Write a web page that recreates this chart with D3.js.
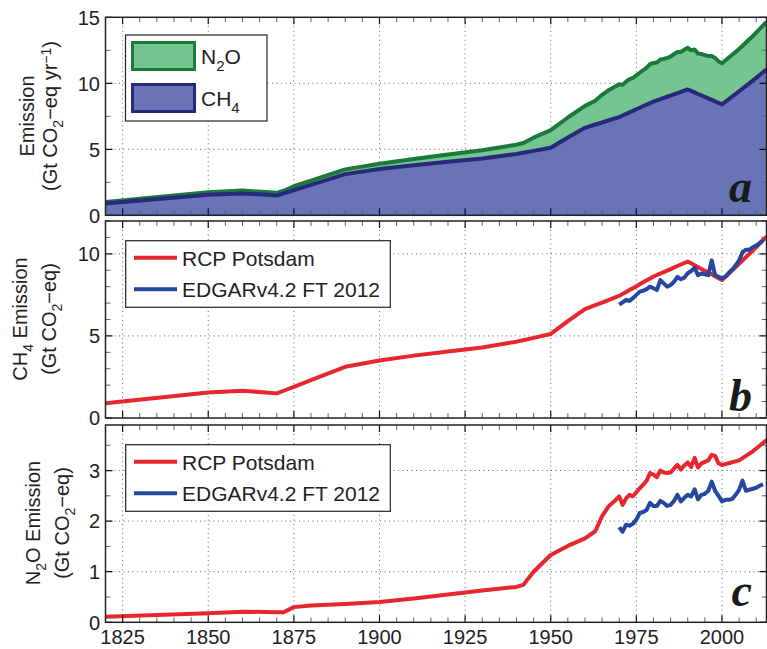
<!DOCTYPE html>
<html>
<head>
<meta charset="utf-8">
<script src="https://cdn.jsdelivr.net/npm/d3@7"></script>
<style>
  body { margin: 0; background: #fff; }
  text { font-family: "Liberation Sans", Arial, sans-serif; fill: #222; }
</style>
</head>
<body>
<svg id="chart" width="767" height="649"></svg>
<script>
// RCP Potsdam historical emissions (Gt CO2-eq)
const rcpYears = [1820, 1850, 1860, 1870, 1872, 1875, 1880, 1890, 1900, 1910,
  1920, 1930, 1940, 1942, 1945, 1950, 1955, 1960, 1963, 1965, 1967, 1969,
  1970, 1971, 1972, 1973, 1974, 1975, 1976, 1977, 1978, 1979,
  1980, 1981, 1982, 1983, 1984, 1985, 1986, 1987, 1988, 1989,
  1990, 1991, 1992, 1993, 1994, 1995, 1996, 1997, 1998, 1999,
  2000, 2005, 2009, 2013];
const rcpCH4 = [0.9, 1.56, 1.66, 1.5, 1.66, 1.9, 2.3, 3.12, 3.5, 3.8,
  4.05, 4.3, 4.65, 4.74, 4.88, 5.12, 5.9, 6.63, 6.88, 7.03, 7.2, 7.36,
  7.44, 7.56, 7.68, 7.8, 7.91, 8.03, 8.15, 8.27, 8.39, 8.5,
  8.62, 8.71, 8.8, 8.89, 8.98, 9.07, 9.17, 9.26, 9.35, 9.44,
  9.53, 9.42, 9.31, 9.19, 9.08, 8.97, 8.86, 8.75, 8.63, 8.52,
  8.41, 9.4, 10.2, 11.05];
const rcpN2O = [0.11, 0.18, 0.21, 0.2, 0.2, 0.3, 0.33, 0.36, 0.4, 0.47,
  0.55, 0.63, 0.7, 0.74, 1.0, 1.33, 1.51, 1.66, 1.8, 2.1, 2.3, 2.42,
  2.49, 2.32, 2.45, 2.52, 2.49, 2.57, 2.65, 2.72, 2.8, 2.95,
  2.92, 2.87, 3.0, 2.96, 2.95, 2.96, 3.04, 3.11, 3.02, 3.1,
  3.16, 3.07, 3.25, 3.06, 3.14, 3.17, 3.2, 3.31, 3.29, 3.14,
  3.11, 3.2, 3.38, 3.6];

// EDGARv4.2 FT 2012
const edgarYears = [1970, 1971, 1972, 1973, 1974, 1975, 1976, 1977, 1978, 1979,
  1980, 1981, 1982, 1983, 1984, 1985, 1986, 1987, 1988, 1989,
  1990, 1991, 1992, 1993, 1994, 1995, 1996, 1997, 1998, 1999,
  2000, 2001, 2002, 2003, 2004, 2005, 2006, 2007, 2008, 2009,
  2010, 2011, 2012];
const edgarCH4 = [6.9, 7.05, 7.2, 7.13, 7.3, 7.5, 7.7, 7.75, 7.85, 8.0,
  7.9, 7.8, 8.4, 8.2, 8.0, 8.1, 8.3, 8.6, 8.45, 8.55,
  8.82, 8.95, 9.15, 8.7, 8.8, 8.75, 8.7, 9.6, 8.7, 8.6,
  8.5, 8.6, 8.85, 9.05, 9.3, 9.6, 10.1, 10.25, 10.25, 10.4,
  10.5, 10.65, 10.85];
const edgarN2O = [1.88, 1.79, 1.93, 1.91, 1.95, 2.03, 2.16, 2.18, 2.22, 2.36,
  2.3, 2.3, 2.4, 2.36, 2.3, 2.32, 2.4, 2.52, 2.39, 2.46,
  2.52, 2.49, 2.63, 2.43, 2.52, 2.54, 2.6, 2.78, 2.6, 2.5,
  2.39, 2.42, 2.42, 2.44, 2.52, 2.62, 2.8, 2.6, 2.62, 2.64,
  2.66, 2.7, 2.73];

const xTicks = [1825, 1850, 1875, 1900, 1925, 1950, 1975, 2000];
const xMinorTicks = d3.range(1820, 2013, 5).filter(v => !xTicks.includes(v));

const colRed = "#e8262d", colBlue = "#2547a1";
const colCH4Fill = "#6874b5", colCH4Line = "#28297b";
const colN2OFill = "#74c590", colN2OLine = "#1b7a3b";

const svg = d3.select("#chart");
const left = 105.5, right = 766.5;
const x = d3.scaleLinear().domain([1820, 2013]).range([left, right]);

function makePanel(id, top, bottom, yMax, yTicks, yMinor, gridY) {
  const y = d3.scaleLinear().domain([0, yMax]).range([bottom, top]);
  const g = svg.append("g").attr("class", "panel-" + id);

  svg.append("clipPath").attr("id", "clip-" + id)
    .append("rect").attr("x", left).attr("y", top)
    .attr("width", right - left).attr("height", bottom - top);

  // dotted grid
  const grid = g.append("g").attr("stroke", "#666").attr("stroke-width", 1)
    .attr("stroke-dasharray", "1,3.5");
  grid.selectAll(".gx").data(xTicks).enter().append("line")
    .attr("x1", d => x(d)).attr("x2", d => x(d))
    .attr("y1", top).attr("y2", bottom);
  grid.selectAll(".gy").data(gridY).enter().append("line")
    .attr("x1", left).attr("x2", right)
    .attr("y1", d => y(d)).attr("y2", d => y(d));

  const plot = g.append("g").attr("clip-path", `url(#clip-${id})`);
  const over = g.append("g");
  return { y, g, plot, over, top, bottom };
}

function finishPanel(p, yTicks, yMinor, showX) {
  const { y, g, top, bottom } = p;
  const ax = g.append("g");
  const major = 7, minor = 5;
  // x ticks top & bottom
  ax.selectAll(".xt").data(xTicks).enter().append("path")
    .attr("d", d => `M${x(d)},${bottom}v${-major}M${x(d)},${top}v${major}`)
    .attr("stroke", "#111").attr("stroke-width", 1.2);
  ax.selectAll(".xm").data(xMinorTicks).enter().append("path")
    .attr("d", d => `M${x(d)},${bottom}v${-minor}M${x(d)},${top}v${minor}`)
    .attr("stroke", "#666").attr("stroke-width", 1);
  // y ticks left & right
  ax.selectAll(".yt").data(yTicks).enter().append("path")
    .attr("d", d => `M${left},${y(d)}h${major}M${right},${y(d)}h${-major}`)
    .attr("stroke", "#111").attr("stroke-width", 1.2);
  ax.selectAll(".ym").data(yMinor).enter().append("path")
    .attr("d", d => `M${left},${y(d)}h${minor}M${right},${y(d)}h${-minor}`)
    .attr("stroke", "#666").attr("stroke-width", 1);
  ax.append("rect").attr("x", left).attr("y", top)
    .attr("width", right - left).attr("height", bottom - top)
    .attr("fill", "none").attr("stroke", "#222").attr("stroke-width", 1.5);

  ax.selectAll(".yl").data(yTicks).enter().append("text")
    .attr("x", 100).attr("y", d => y(d)).attr("dy", "0.36em")
    .attr("text-anchor", "end").style("font-size", "20px")
    .text(d => d);

  if (showX) {
    ax.selectAll(".xl").data(xTicks).enter().append("text")
      .attr("x", d => x(d)).attr("y", 644)
      .attr("text-anchor", "middle").style("font-size", "20px")
      .text(d => d);
  }
}

function panelLetter(p, letter, baseY) {
  p.over.append("text").attr("x", 752).attr("y", baseY)
    .attr("text-anchor", "end")
    .style("font-family", "'Liberation Serif', 'Times New Roman', serif")
    .style("font-style", "italic").style("font-weight", "bold")
    .style("font-size", "46px").style("fill", "#1a1a1a")
    .text(letter);
}

// rotated y label built from pieces: [text, shift] where shift: 0 normal, 1 sub, -1 sup
function yLabel(cx, cy, parts) {
  const t = svg.append("text")
    .attr("transform", `translate(${cx},${cy}) rotate(-90)`)
    .attr("text-anchor", "middle").style("font-size", "20px");
  let cur = 0;
  parts.forEach(([s, shift]) => {
    const target = shift * 6;
    const ts = t.append("tspan").attr("dy", target - cur).text(s);
    if (shift !== 0) ts.style("font-size", "14px");
    cur = target;
  });
  return t;
}

// ---------- panel a ----------
const pa = makePanel("a", 17.3, 215.3, 15, [0, 5, 10, 15], [2.5, 7.5, 12.5], [5, 10]);
const table = rcpYears.map((yr, i) => ({ year: yr, ch4: rcpCH4[i], n2o: rcpN2O[i] }));
const stacked = d3.stack().keys(["ch4", "n2o"])(table);
const area = d3.area().x(d => x(d.data.year)).y0(d => pa.y(d[0])).y1(d => pa.y(d[1]));
const topLine = d3.line().x(d => x(d.data.year)).y(d => pa.y(d[1]));
pa.plot.append("path").datum(stacked[1]).attr("d", area).attr("fill", colN2OFill);
pa.plot.append("path").datum(stacked[0]).attr("d", area).attr("fill", colCH4Fill);
pa.plot.append("path").datum(stacked[1]).attr("d", topLine)
  .attr("fill", "none").attr("stroke", colN2OLine).attr("stroke-width", 4).attr("stroke-linejoin", "round");
pa.plot.append("path").datum(stacked[0]).attr("d", topLine)
  .attr("fill", "none").attr("stroke", colCH4Line).attr("stroke-width", 4).attr("stroke-linejoin", "round");

// legend a
const legA = pa.over.append("g");
legA.append("rect").attr("x", 125.5).attr("y", 35).attr("width", 141.5).attr("height", 86)
  .attr("fill", "#fff").attr("stroke", "#222").attr("stroke-width", 1.2);
const legAItems = [
  { fill: colN2OFill, stroke: colN2OLine, parts: [["N", 0], ["2", 1], ["O", 0]] },
  { fill: colCH4Fill, stroke: colCH4Line, parts: [["CH", 0], ["4", 1]] }
];
legAItems.forEach((it, i) => {
  legA.append("rect").attr("x", 132.5).attr("y", 42.5 + i * 42).attr("width", 62).attr("height", 27)
    .attr("fill", it.fill).attr("stroke", it.stroke).attr("stroke-width", 3);
  const t = legA.append("text").attr("x", 201).attr("y", 64 + i * 42).style("font-size", "21px");
  let cur = 0;
  it.parts.forEach(([s, sh]) => {
    const target = sh * 7;
    const ts = t.append("tspan").attr("dy", target - cur).text(s);
    if (sh) ts.style("font-size", "15px");
    cur = target;
  });
});
panelLetter(pa, "a", 202);
finishPanel(pa, [0, 5, 10, 15], [2.5, 7.5, 12.5], false);

// ---------- line panels ----------
function linePanel(id, top, bottom, yMax, yTicks, yMinor, gridY, rcpVals, edgarVals, letterY, showX) {
  const p = makePanel(id, top, bottom, yMax, yTicks, yMinor, gridY);
  const line = d3.line().x(d => x(d[0])).y(d => p.y(d[1]));
  p.plot.append("path").datum(rcpYears.map((yr, i) => [yr, rcpVals[i]]))
    .attr("d", line).attr("fill", "none").attr("stroke", colRed)
    .attr("stroke-width", 4).attr("stroke-linejoin", "round");
  p.plot.append("path").datum(edgarYears.map((yr, i) => [yr, edgarVals[i]]))
    .attr("d", line).attr("fill", "none").attr("stroke", colBlue)
    .attr("stroke-width", 4).attr("stroke-linejoin", "round");

  const ly = top + 19.7;
  const leg = p.over.append("g");
  leg.append("rect").attr("x", 125.7).attr("y", ly).attr("width", 264.6).attr("height", 66.6)
    .attr("fill", "#fff").attr("stroke", "#222").attr("stroke-width", 1.2);
  const items = [["RCP Potsdam", colRed], ["EDGARv4.2 FT 2012", colBlue]];
  items.forEach(([name, c], i) => {
    leg.append("line").attr("x1", 134).attr("x2", 177)
      .attr("y1", ly + 17 + i * 31.6).attr("y2", ly + 17 + i * 31.6)
      .attr("stroke", c).attr("stroke-width", 4);
    leg.append("text").attr("x", 182).attr("y", ly + 25 + i * 31.6)
      .style("font-size", "21px").text(name);
  });
  panelLetter(p, id, letterY);
  finishPanel(p, yTicks, yMinor, showX);
  return p;
}

linePanel("b", 221, 418, 12, [0, 5, 10], d3.range(1, 13).filter(v => v % 5 !== 0), [5, 10],
  rcpCH4, edgarCH4, 411, false);
linePanel("c", 425, 622.3, 3.9, [0, 1, 2, 3], [0.5, 1.5, 2.5, 3.5], [1, 2, 3],
  rcpN2O, edgarN2O, 606, true);

// ---------- y labels ----------
yLabel(34, 116, [["Emission", 0]]);
yLabel(57, 116, [["(Gt CO", 0], ["2", 1], ["\u2212eq yr", 0], ["\u22121", -1], [")", 0]]);
yLabel(27, 319, [["CH", 0], ["4", 1], [" Emission", 0]]);
yLabel(56, 319, [["(Gt CO", 0], ["2", 1], ["\u2212eq)", 0]]);
yLabel(40, 523, [["N", 0], ["2", 1], ["O Emission", 0]]);
yLabel(69, 523, [["(Gt CO", 0], ["2", 1], ["\u2212eq)", 0]]);
</script>
</body>
</html>
